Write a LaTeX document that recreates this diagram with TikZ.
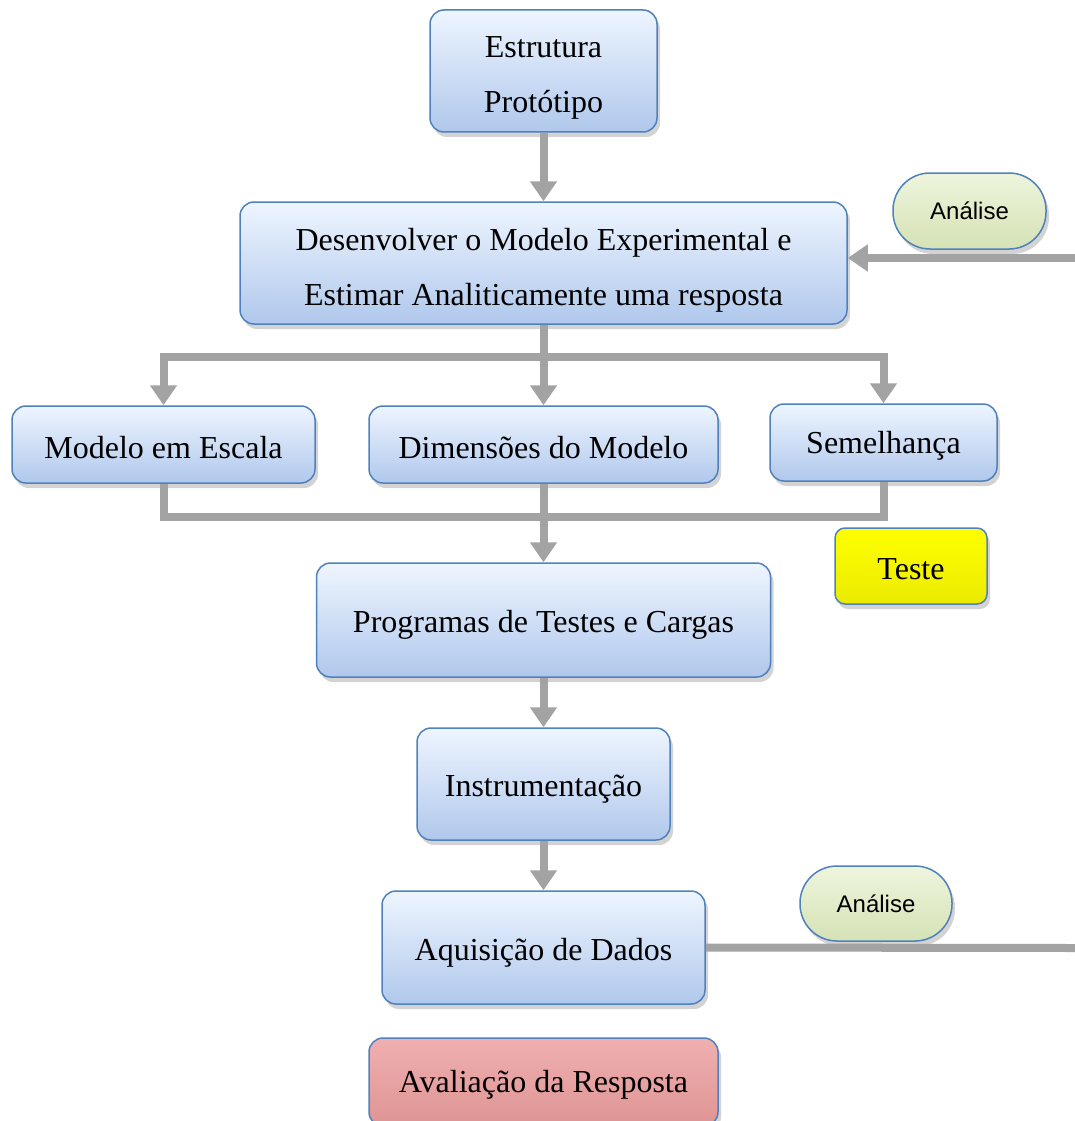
\documentclass[tikz,border=0pt]{standalone}
\usepackage{fontspec}
\setmainfont{Liberation Serif}
\newfontfamily\anfont{Liberation Sans}
\usetikzlibrary{arrows.meta,shadows}
\definecolor{boxtop}{HTML}{EEF5FF}
\definecolor{boxbot}{HTML}{B0C8EC}
\definecolor{boxline}{HTML}{4F81BD}
\definecolor{conncol}{HTML}{A3A3A3}
\definecolor{antop}{HTML}{EEF5DD}
\definecolor{anbot}{HTML}{D5E2B5}
\definecolor{avtop}{HTML}{F0B0B0}
\definecolor{avbot}{HTML}{DE9494}
\begin{document}
\begin{tikzpicture}[x=1pt,y=-1pt,
  box/.style={draw=boxline, line width=1.5pt, rounded corners=14pt,
    top color=boxtop, bottom color=boxbot, inner sep=0pt,
    drop shadow={shadow xshift=3pt, shadow yshift=-5pt, opacity=0.35}},
  lbl/.style={align=center, font=\fontsize{32}{55}\selectfont, inner sep=0pt, yshift=-7pt},
  anbox/.style={draw=boxline, line width=1.5pt, rounded corners=37pt,
    top color=antop, bottom color=anbot, inner sep=0pt,
    font=\anfont\fontsize{24}{28}\selectfont,
    drop shadow={shadow xshift=3pt, shadow yshift=-5pt, opacity=0.35}},
  testbox/.style={box, top color=yellow, bottom color=yellow!92!black, rounded corners=10pt},
  avbox/.style={box, top color=avtop, bottom color=avbot},
  conn/.style={draw=conncol, line width=8pt, line join=miter},
  arr/.style={conn, -{Triangle[width=26pt,length=20pt]}}
]
\useasboundingbox (0,0) rectangle (1075,1121);

\node[box, minimum width=227, minimum height=122, label={[lbl]center:Estrutura\\Protótipo}] (est) at (543.5,71) {};
\node[box, minimum width=607, minimum height=122, label={[lbl]center:Desenvolver o Modelo Experimental e\\Estimar Analiticamente uma resposta}] (des) at (543.5,263) {};
\node[box, minimum width=303, minimum height=77, label={[lbl, yshift=4pt]center:Modelo em Escala}] (mod) at (163.5,444.5) {};
\node[box, minimum width=349, minimum height=77, label={[lbl, yshift=4pt]center:Dimensões do Modelo}] (dim) at (543.5,444.5) {};
\node[box, minimum width=227, minimum height=77, label={[lbl, yshift=4pt]center:Semelhança}] (sem) at (883.5,442.5) {};
\node[box, minimum width=454, minimum height=114, label={[lbl, yshift=2pt]center:Programas de Testes e Cargas}] (prog) at (543.5,620) {};
\node[box, minimum width=253, minimum height=112, label={[lbl, yshift=2pt]center:Instrumentação}] (inst) at (543.5,784) {};
\node[box, minimum width=323, minimum height=113, label={[lbl, yshift=2pt]center:Aquisição de Dados}] (aq) at (543.5,947.5) {};
\node[avbox, minimum width=349, minimum height=88, label={[lbl, yshift=4pt]center:Avaliação da Resposta}] (av) at (543.5,1082) {};
\node[testbox, minimum width=152, minimum height=76, label={[lbl, yshift=4pt]center:Teste}] (teste) at (911,566) {};
\node[anbox, minimum width=153, minimum height=76] (an1) at (969.5,211) {Análise};
\node[anbox, minimum width=152, minimum height=75] (an2) at (876,903.5) {Análise};

\coordinate (r1) at (1075,258);
\coordinate (s1) at (543.5,357);
\coordinate (m1) at (543.5,517);
\coordinate (r2) at (1075,948);

\draw[arr] (est.south) -- (des.north);
\draw[arr] (r1) -- (des.east |- r1);
\draw[conn] (des.south) -- (s1);
\draw[arr] (s1) -| (mod.north);
\draw[arr] (s1) -| (sem.north);
\draw[arr] (s1) -- (dim.north);
\draw[conn] (mod.south) |- (m1) -| (sem.south);
\draw[arr] (dim.south) -- (prog.north);
\draw[arr] (prog.south) -- (inst.north);
\draw[arr] (inst.south) -- (aq.north);
\draw[conn] (aq.east) -- (r2);
\end{tikzpicture}
\end{document}
